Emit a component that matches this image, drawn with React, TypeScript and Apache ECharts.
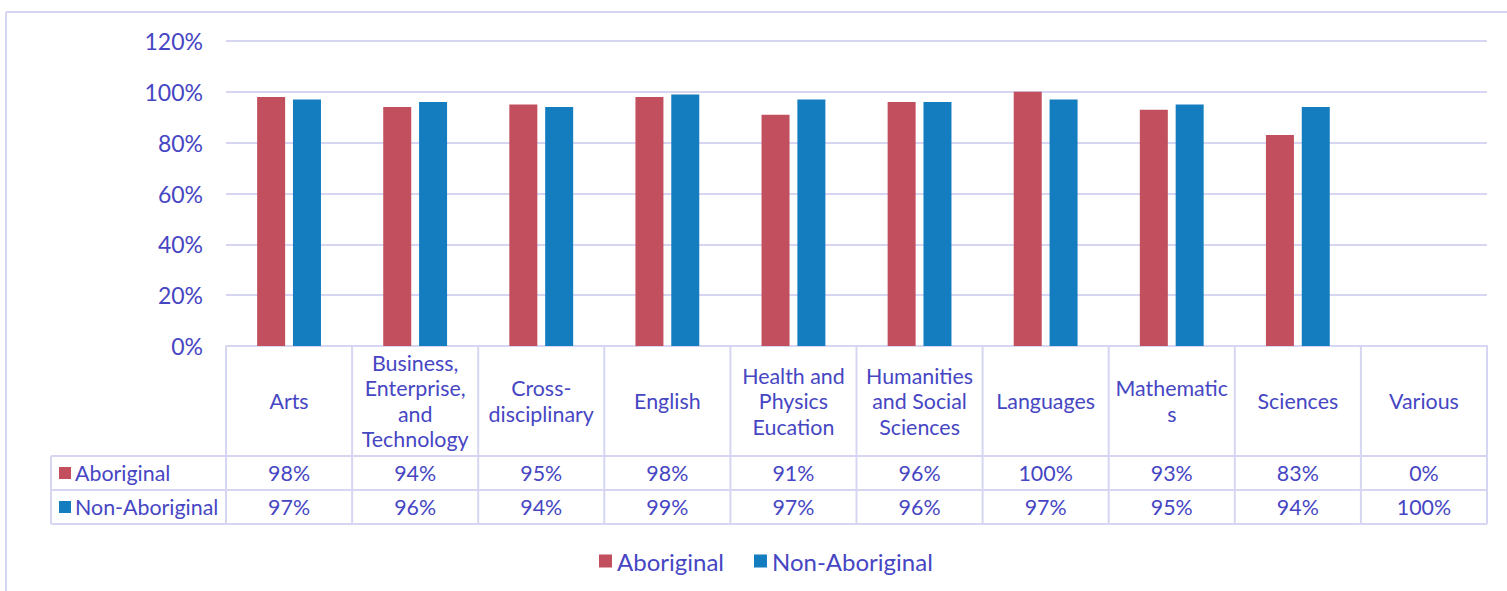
import React, { useEffect, useRef } from "react";
import * as echarts from "echarts";

const categories = [
  "Arts",
  "Business, Enterprise, and Technology",
  "Cross-disciplinary",
  "English",
  "Health and Physics Eucation",
  "Humanities and Social Sciences",
  "Languages",
  "Mathematics",
  "Sciences",
  "Various",
];
const categoryLabels = [
  "Arts",
  "Business,\nEnterprise,\nand\nTechnology",
  "Cross-\ndisciplinary",
  "English",
  "Health and\nPhysics\nEucation",
  "Humanities\nand Social\nSciences",
  "Languages",
  "Mathematic\ns",
  "Sciences",
  "Various",
];
const seriesNames = ["Aboriginal", "Non-Aboriginal"];
const aboriginal = [98, 94, 95, 98, 91, 96, 100, 93, 83, 0];
const nonAboriginal = [97, 96, 94, 99, 97, 96, 97, 95, 94, 100];
// the reference plots no bars for "Various"
const plotted = [true, true, true, true, true, true, true, true, true, false];
const yTicks = [0, 20, 40, 60, 80, 100, 120];

const RED = "#C24F5E";
const BLUE = "#137DC0";
const TEXT = "#4646C3";
const LINE = "#D6D6F2";
const FONT = "Lato, 'Open Sans', sans-serif";
const TABLE_FS = 21.4;

export default function App() {
  const ref = useRef<HTMLDivElement>(null);
  useEffect(() => {
    if (!ref.current) return;
    const chart = echarts.init(ref.current, null, { renderer: "svg" });
    chart.setOption({
      animation: false,
      backgroundColor: "#ffffff",
      textStyle: { fontFamily: FONT },
      grid: { left: 226, right: 20, top: 41, bottom: 245, containLabel: false },
      legend: {
        left: 594,
        top: 544,
        itemWidth: 13,
        itemHeight: 13,
        itemGap: 30,
        icon: "rect",
        data: seriesNames,
        textStyle: { fontSize: 24, color: TEXT, fontFamily: FONT },
      },
      xAxis: {
        type: "category",
        data: categories,
        axisLine: { show: true, lineStyle: { color: LINE, width: 2 } },
        axisTick: { show: false },
        axisLabel: {
          interval: 0,
          margin: 55,
          verticalAlign: "middle",
          fontSize: TABLE_FS,
          lineHeight: 25.5,
          color: TEXT,
          fontFamily: FONT,
          formatter: (_v: string, i: number) => categoryLabels[i],
        },
      },
      yAxis: {
        type: "value",
        min: yTicks[0],
        max: yTicks[yTicks.length - 1],
        interval: 20,
        axisLine: { show: false },
        axisTick: { show: false },
        splitLine: { lineStyle: { color: LINE, width: 2 } },
        axisLabel: {
          formatter: "{value}%",
          fontSize: 23,
          margin: 23,
          color: TEXT,
          fontFamily: FONT,
        },
      },
      series: [
        {
          name: seriesNames[0],
          type: "bar",
          barWidth: 28,
          barGap: "28%",
          itemStyle: { color: RED },
          data: aboriginal.map((v, i) => (plotted[i] ? v : null)),
        },
        {
          name: seriesNames[1],
          type: "bar",
          barWidth: 28,
          barGap: "28%",
          itemStyle: { color: BLUE },
          data: nonAboriginal.map((v, i) => (plotted[i] ? v : null)),
        },
      ],
    });

    const centers = categories.map((_, i) =>
      chart.convertToPixel({ xAxisIndex: 0 }, i) as number
    );
    const band = centers[1] - centers[0];
    const bounds = [centers[0] - band / 2, ...centers.map((c) => c + band / 2)];
    const yAxisBase = chart.convertToPixel({ yAxisIndex: 0 }, 0) as number;
    const headerBottom = 456;
    const rowH = 34;
    const tableLeft = 51;
    const right = bounds[bounds.length - 1];
    const lineStyle = { stroke: LINE, lineWidth: 2 };
    const g: any[] = [];
    // outer frame
    g.push({ type: "line", shape: { x1: 6, y1: 12, x2: 1507, y2: 12 }, style: lineStyle });
    g.push({ type: "line", shape: { x1: 6, y1: 12, x2: 6, y2: 591 }, style: lineStyle });
    // table verticals
    bounds.forEach((x) =>
      g.push({
        type: "line",
        shape: { x1: x, y1: yAxisBase, x2: x, y2: headerBottom + rowH * 2 },
        style: lineStyle,
      })
    );
    g.push({
      type: "line",
      shape: { x1: tableLeft, y1: headerBottom, x2: tableLeft, y2: headerBottom + rowH * 2 },
      style: lineStyle,
    });
    for (let r = 0; r <= 2; r++) {
      g.push({
        type: "line",
        shape: { x1: tableLeft, y1: headerBottom + rowH * r, x2: right, y2: headerBottom + rowH * r },
        style: lineStyle,
      });
    }
    const rows = [aboriginal, nonAboriginal];
    const colors = [RED, BLUE];
    rows.forEach((vals, r) => {
      const cy = headerBottom + rowH * r + rowH / 2;
      g.push({ type: "rect", shape: { x: 59, y: cy - 6, width: 12, height: 12 }, style: { fill: colors[r] } });
      g.push({
        type: "text",
        x: 75,
        y: cy,
        style: { text: seriesNames[r], fontSize: TABLE_FS, fill: TEXT, fontFamily: FONT, verticalAlign: "middle", align: "left" },
      });
      vals.forEach((v, i) =>
        g.push({
          type: "text",
          x: centers[i],
          y: cy,
          style: { text: v + "%", fontSize: TABLE_FS, fill: TEXT, fontFamily: FONT, verticalAlign: "middle", align: "center" },
        })
      );
    });
    chart.setOption({ graphic: g });
    return () => chart.dispose();
  }, []);
  return <div ref={ref} style={{ width: 1507, height: 591, position: "absolute", left: 0, top: 0 }} />;
}
